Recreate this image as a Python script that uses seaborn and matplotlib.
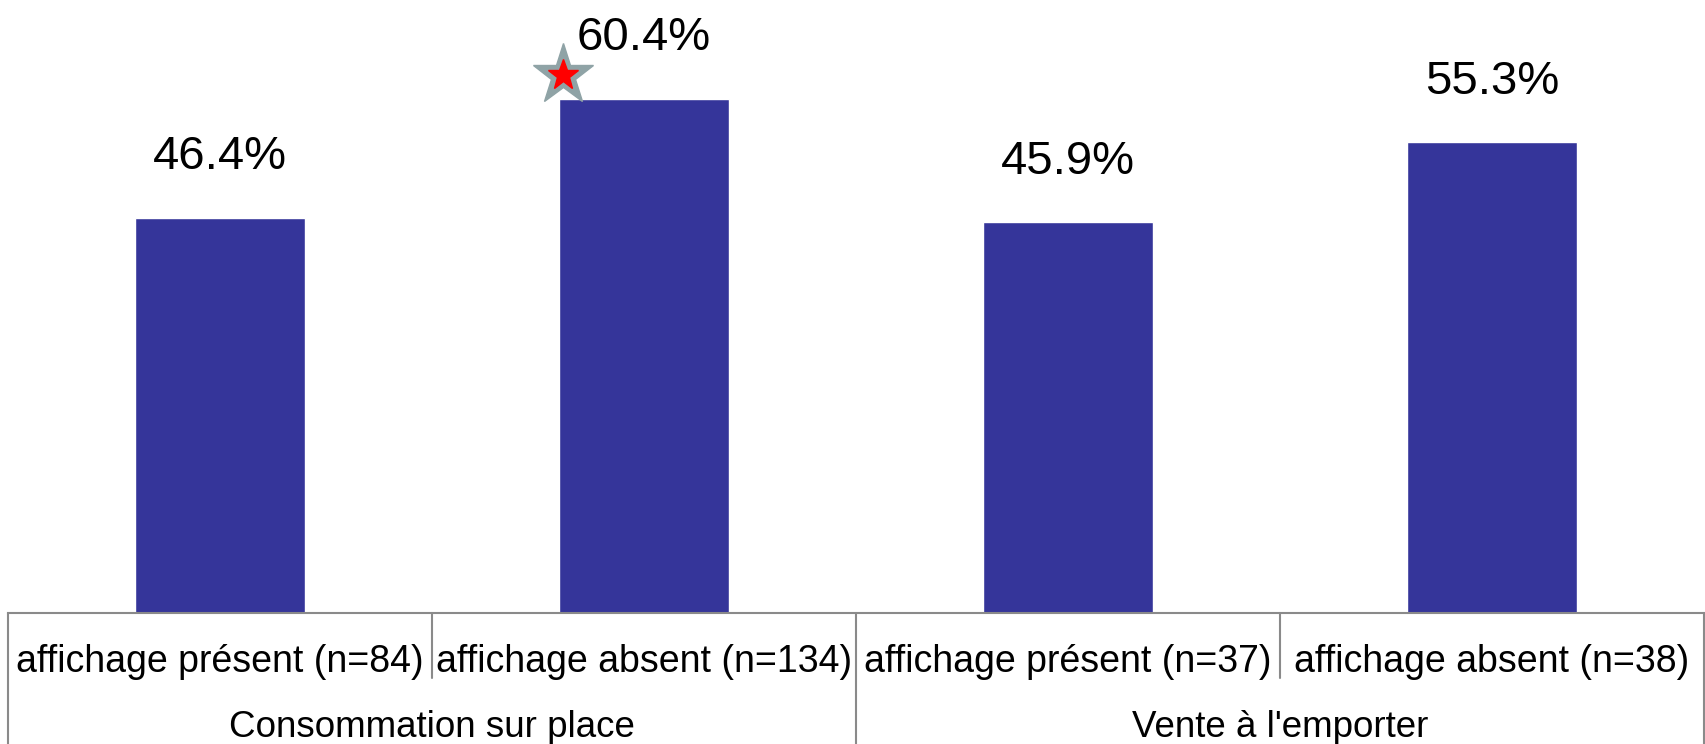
import seaborn as sns
import matplotlib.pyplot as plt
import matplotlib.transforms as mtransforms
import pandas as pd

# data
groups = ["Consommation sur place", "Consommation sur place",
          "Vente à l'emporter", "Vente à l'emporter"]
conditions = ["affichage présent (n=84)", "affichage absent (n=134)",
              "affichage présent (n=37)", "affichage absent (n=38)"]
rates = [46.4, 60.4, 45.9, 55.3]
group_names = ["Consommation sur place", "Vente à l'emporter"]
starred = [1]  # bar flagged with a star

df = pd.DataFrame({"group": groups, "condition": conditions, "rate": rates})
df["slot"] = range(len(df))

sns.set_style("white")
plt.rcParams["font.family"] = ["Liberation Sans", "DejaVu Sans"]
plt.rcParams["text.color"] = "black"
plt.rcParams["xtick.color"] = "black"

fig = plt.figure(figsize=(17.05, 7.44), dpi=100)
ax = fig.add_axes([8 / 1705, 131 / 744, 1696 / 1705, 613 / 744])

sns.barplot(data=df, x="slot", y="rate", color="#35359a", saturation=1,
            width=0.4, ax=ax, errorbar=None)

ax.set_xlim(-0.5, 3.5)
ax.set_ylim(0, 72)
ax.set_xlabel("")
ax.set_ylabel("")
ax.set_yticks([])
for side in ["left", "right", "top"]:
    ax.spines[side].set_visible(False)
ax.spines["bottom"].set_color("#8a8a8a")
ax.spines["bottom"].set_linewidth(1.5)

# value labels
for i, v in enumerate(rates):
    ax.annotate(f"{v:.1f}%", (i, v), xytext=(0, 35), textcoords="offset points",
                ha="center", va="baseline", fontsize=34)

# significance star
for i in starred:
    ax.plot(i - 0.19, rates[i] + 2.8, marker="*", markersize=46,
            color="#8fa3a6", clip_on=False, zorder=5)
    ax.plot(i - 0.19, rates[i] + 2.8, marker="*", markersize=23,
            color="#ff0000", clip_on=False, zorder=6)

# two-level category axis drawn as a table
ax.set_xticks(range(len(conditions)))
ax.set_xticklabels(conditions, fontsize=27)
ax.tick_params(axis="x", length=0, pad=22)

trans = mtransforms.blended_transform_factory(ax.transData, ax.transAxes)
line_kw = dict(color="#8a8a8a", lw=1.5, clip_on=False, transform=trans)
for x in [-0.5, 1.5, 3.5]:
    ax.plot([x, x], [0, -0.25], **line_kw)
for x in [0.5, 2.5]:
    ax.plot([x, x], [0, -0.106], **line_kw)

for k, name in enumerate(group_names):
    ax.text(2 * k + 0.5, -0.187, name, transform=trans, ha="center",
            va="center", fontsize=26.5)

fig.savefig("out.png", dpi=100)
